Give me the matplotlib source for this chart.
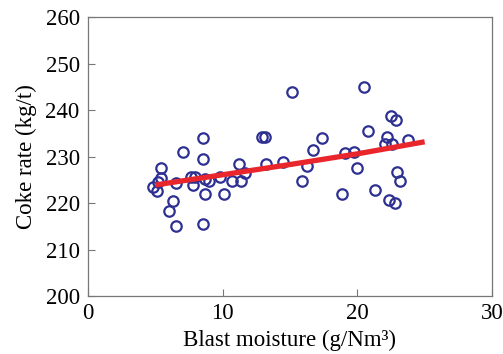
import matplotlib
matplotlib.use("Agg")
import matplotlib.pyplot as plt

moisture = [4.84, 5.09, 5.21, 5.41, 5.41, 6.03, 6.33, 6.50, 6.50, 7.09,
            7.64, 7.81, 7.98, 8.55, 8.55, 8.55, 8.70, 8.70, 8.99, 9.79,
            10.11, 10.70, 11.19, 11.34, 11.68, 12.90, 13.17, 13.24, 14.50, 15.12,
            15.91, 16.23, 16.70, 17.35, 18.90, 19.08, 19.72, 19.99, 20.51, 20.78,
            21.28, 22.04, 22.19, 22.56, 22.34, 22.54, 22.86, 22.83, 22.98, 23.15,
            23.80]
coke_rate = [223.5, 222.7, 224.6, 227.5, 225.3, 218.4, 220.4, 215.1, 224.3, 231.1,
             225.7, 223.9, 225.7, 234.0, 229.5, 215.6, 222.0, 225.2, 224.7, 225.7,
             222.0, 224.7, 228.4, 224.7, 226.4, 234.3, 234.3, 228.4, 228.8, 243.9,
             224.7, 228.0, 231.4, 234.0, 222.0, 230.7, 231.1, 227.5, 245.1, 235.5,
             222.8, 232.7, 234.3, 232.7, 220.7, 238.8, 237.9, 220.0, 226.7, 224.7,
             233.5]

fit_x = [5, 10, 15, 20, 25]
fit_y = [223.9, 226.1, 228.3, 230.6, 233.2]

x_ticks = [0, 10, 20, 30]
y_ticks = [200, 210, 220, 230, 240, 250, 260]

plt.rcParams['font.family'] = ['Liberation Serif', 'DejaVu Serif']
plt.rcParams['mathtext.fontset'] = 'stix'

fig = plt.figure(figsize=(5.03, 3.54), dpi=100)
ax = fig.add_axes([0.175, 0.164, 0.803, 0.787])

ax.plot(moisture, coke_rate, linestyle='none', marker='o', markersize=7.5,
        markerfacecolor='none', markeredgecolor='#2e3192', markeredgewidth=1.6, zorder=2)
ax.plot(fit_x, fit_y, color='#e8262b', linewidth=3.8, solid_capstyle='butt', zorder=3)

ax.set_xlim(0, 30)
ax.set_ylim(200, 260)
ax.set_xticks(x_ticks)
ax.set_yticks(y_ticks)
ax.tick_params(direction='in', length=5, width=0.8, color='#777777', labelsize=16.5)
ax.tick_params(axis='y', pad=6)
ax.tick_params(axis='x', pad=5)
for s in ax.spines.values():
    s.set_color('#777777')
    s.set_linewidth(0.9)

ax.set_xlabel('Blast moisture (g/Nm³)', fontsize=16.5, labelpad=4)
ax.set_ylabel('Coke rate (kg/t)', fontsize=16.5, labelpad=6)

fig.savefig('out.png', dpi=100)
